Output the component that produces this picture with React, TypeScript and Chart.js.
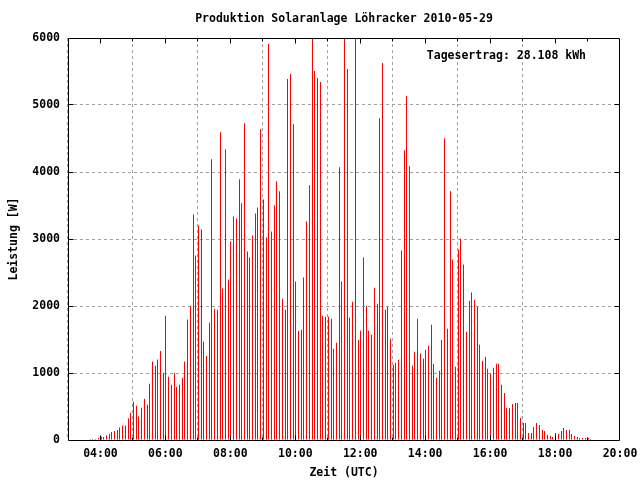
import React, { useEffect, useRef } from "react";
import { Chart, registerables } from "chart.js";

Chart.register(...registerables);

// ---- data ----
const TIMES = [
  "03:41", "03:46", "03:51", "03:56",
  "04:01", "04:06", "04:11", "04:16", "04:21", "04:26", "04:31", "04:36", "04:41", "04:46", "04:51", "04:56",
  "05:01", "05:06", "05:11", "05:16", "05:21", "05:26", "05:31", "05:36", "05:41", "05:46", "05:51", "05:56",
  "06:01", "06:06", "06:11", "06:16", "06:21", "06:26", "06:31", "06:36", "06:41", "06:46", "06:51", "06:56",
  "07:01", "07:06", "07:11", "07:16", "07:21", "07:26", "07:31", "07:36", "07:41", "07:46", "07:51", "07:56",
  "08:01", "08:06", "08:11", "08:16", "08:21", "08:26", "08:31", "08:36", "08:41", "08:46", "08:51", "08:56",
  "09:01", "09:06", "09:11", "09:16", "09:21", "09:26", "09:31", "09:36", "09:41", "09:46", "09:51", "09:56",
  "10:01", "10:06", "10:11", "10:16", "10:21", "10:26", "10:31", "10:36", "10:41", "10:46", "10:51", "10:56",
  "11:01", "11:06", "11:11", "11:16", "11:21", "11:26", "11:31", "11:36", "11:41", "11:46", "11:51", "11:56",
  "12:01", "12:06", "12:11", "12:16", "12:21", "12:26", "12:31", "12:36", "12:41", "12:46", "12:51", "12:56",
  "13:01", "13:06", "13:11", "13:16", "13:21", "13:26", "13:31", "13:36", "13:41", "13:46", "13:51", "13:56",
  "14:01", "14:06", "14:11", "14:16", "14:21", "14:26", "14:31", "14:36", "14:41", "14:46", "14:51", "14:56",
  "15:01", "15:06", "15:11", "15:16", "15:21", "15:26", "15:31", "15:36", "15:41", "15:46", "15:51", "15:56",
  "16:01", "16:06", "16:11", "16:16", "16:21", "16:26", "16:31", "16:36", "16:41", "16:46", "16:51", "16:56",
  "17:01", "17:06", "17:11", "17:16", "17:21", "17:26", "17:31", "17:36", "17:41", "17:46", "17:51", "17:56",
  "18:01", "18:06", "18:11", "18:16", "18:21", "18:26", "18:31", "18:36", "18:41", "18:46", "18:51", "18:56",
  "19:01", "19:06",
];

const POWER_W = [
  15, 15, 15, 30, 50, 45, 70, 95, 120, 135,
  150, 185, 215, 215, 320, 405, 570, 510, 350, 480,
  615, 525, 840, 1170, 1110, 1200, 1330, 1000, 1855, 945,
  825, 1000, 795, 825, 930, 1170, 1800, 2005, 3367, 2753,
  3202, 3142, 1466, 1257, 1751, 4190, 1960, 1945, 4594, 2260,
  4340, 2394, 2963, 3337, 3307, 3891, 3532, 4729, 2813, 2723,
  3053, 3382, 3472, 4639, 3591, 3023, 5911, 3112, 3502, 3861,
  3711, 2110, 1945, 5387, 5462, 4714, 2364, 1631, 1646, 2424,
  3262, 3801, 6000, 5507, 5402, 5342, 1856, 1840, 1840, 1811,
  1362, 1452, 4070, 2364, 6000, 5537, 1826, 2065, 6000, 1496,
  1631, 2723, 2005, 1631, 1571, 2274, 2035, 4803, 5627, 1945,
  1990, 1511, 1122, 1152, 1197, 2828, 4325, 5133, 4085, 1107,
  1317, 1811, 1287, 1212, 1347, 1407, 1721, 1137, 928, 1032,
  1496, 4504, 1661, 3711, 2693, 1092, 2843, 3008, 2619, 1616,
  2080, 2200, 2095, 1990, 1422, 1182, 1242, 1062, 988, 1077,
  1137, 1137, 823, 703, 479, 479, 539, 554, 554, 329,
  254, 254, 105, 105, 195, 254, 224, 150, 135, 75,
  60, 45, 105, 90, 135, 180, 150, 150, 90, 60,
  45, 30, 30, 30, 30, 15,
];

const TITLE = "Produktion Solaranlage Löhracker 2010-05-29";
const X_TITLE = "Zeit (UTC)";
const Y_TITLE = "Leistung [W]";
const DAILY_YIELD = "Tagesertrag: 28.108 kWh";
const X_RANGE = ["03:00", "20:00"];
const X_LABEL_STEP_MIN = 120;
const Y_RANGE = [0, 6000];
const Y_STEP = 1000;

// ---- helpers ----
const toMin = (s: string) => {
  const [h, m] = s.split(":").map(Number);
  return h * 60 + m;
};
const fmtMin = (v: number) => {
  const h = Math.floor(v / 60);
  const m = Math.round(v - h * 60);
  return String(h).padStart(2, "0") + ":" + String(m).padStart(2, "0");
};

const FONT_FAMILY = '"DejaVu Sans Mono", "Liberation Mono", monospace';
const FONT = { family: FONT_FAMILY, size: 11.5, weight: "bold" as const };
const GRID_COLOR = "#a0a0a0";
const CLEAR = "rgba(0,0,0,0)";

const snapPlugin = {
  id: "snapBars",
  beforeDatasetsDraw(chart: any) {
    chart.getSortedVisibleDatasetMetas().forEach((meta: any) => {
      meta.data.forEach((el: any) => {
        el.x = Math.round(el.x - 0.5) + 0.5;
      });
    });
  },
};

const framePlugin = {
  id: "gnuFrame",
  afterDraw(chart: any) {
    const { ctx, chartArea: a, scales } = chart;
    const xs = scales.x;
    const ys = scales.y;
    const L = a.left + 0.5;
    const R = a.right - 0.5;
    const T = a.top + 0.5;
    const B = a.bottom + 0.5;
    ctx.save();
    ctx.strokeStyle = "#000";
    ctx.lineWidth = 1;
    ctx.setLineDash([]);
    ctx.beginPath();
    ctx.moveTo(L, T);
    ctx.lineTo(R, T);
    ctx.lineTo(R, B);
    ctx.lineTo(L, B);
    ctx.closePath();
    const x0 = toMin(X_RANGE[0]);
    const x1 = toMin(X_RANGE[1]);
    for (let v = x0 + 60; v < x1; v += 60) {
      const px = Math.round(xs.getPixelForValue(v) - 0.5) + 0.5;
      const len = (v - x0) % X_LABEL_STEP_MIN === 60 ? 5 : 3;
      ctx.moveTo(px, B);
      ctx.lineTo(px, B - len);
      ctx.moveTo(px, T);
      ctx.lineTo(px, T + len);
    }
    for (let v = Y_RANGE[0] + Y_STEP; v < Y_RANGE[1]; v += Y_STEP) {
      const py = Math.round(ys.getPixelForValue(v) - 0.5) + 0.5;
      ctx.moveTo(L, py);
      ctx.lineTo(L + 5, py);
      ctx.moveTo(R, py);
      ctx.lineTo(R - 5, py);
    }
    ctx.stroke();

    ctx.font = `bold ${FONT.size}px ${FONT_FAMILY}`;
    ctx.fillStyle = "#000";
    ctx.textAlign = "left";
    ctx.textBaseline = "middle";
    const tx = a.left + (a.right - a.left) * 0.65;
    const ty = a.top + (a.bottom - a.top) * 0.045;
    ctx.fillText(DAILY_YIELD, tx, ty);
    ctx.restore();
  },
};

export default function App() {
  const canvasRef = useRef<HTMLCanvasElement | null>(null);

  useEffect(() => {
    const canvas = canvasRef.current;
    if (!canvas) return;
    const points = TIMES.map((t, i) => ({ x: toMin(t), y: POWER_W[i] }));
    const xMin = toMin(X_RANGE[0]);
    const xMax = toMin(X_RANGE[1]);

    const chart = new Chart(canvas, {
      type: "bar",
      data: {
        datasets: [
          {
            label: "Leistung",
            data: points as any,
            backgroundColor: "#ff0000",
            borderWidth: 0,
            barThickness: 1,
            inflateAmount: 0,
          } as any,
        ],
      },
      plugins: [snapPlugin, framePlugin],
      options: {
        animation: false,
        responsive: false,
        devicePixelRatio: 1,
        layout: { padding: { left: 0, right: 20, top: 0, bottom: 0 } },
        plugins: {
          legend: { display: false },
          tooltip: { enabled: false },
          title: {
            display: true,
            text: TITLE,
            color: "#000",
            font: FONT,
            fullSize: false,
            padding: { top: 12.5, bottom: 11.7 },
          },
        },
        scales: {
          x: {
            type: "linear",
            min: xMin,
            max: xMax,
            offset: false,
            afterFit: (s: any) => {
              s.height = 40;
              s.paddingLeft = 0;
              s.paddingRight = 0;
            },
            ticks: {
              stepSize: X_LABEL_STEP_MIN,
              includeBounds: false,
              autoSkip: false,
              maxRotation: 0,
              minRotation: 0,
              padding: 7,
              color: "#000",
              font: FONT,
              callback: (v: any) => fmtMin(Number(v)),
            },
            grid: {
              drawTicks: false,
              lineWidth: 1,
              color: (c: any) =>
                c.tick && (c.tick.value <= xMin || c.tick.value >= xMax) ? CLEAR : GRID_COLOR,
            },
            border: { display: false, dash: [3, 3] },
            title: {
              display: true,
              text: X_TITLE,
              color: "#000",
              font: FONT,
              padding: { top: 1, bottom: 0 },
            },
          } as any,
          y: {
            type: "linear",
            min: Y_RANGE[0],
            max: Y_RANGE[1],
            afterFit: (s: any) => {
              s.width = 68;
              s.paddingTop = 0;
              s.paddingBottom = 0;
            },
            ticks: {
              stepSize: Y_STEP,
              autoSkip: false,
              padding: 8,
              color: "#000",
              font: FONT,
              callback: (v: any) => String(v),
            },
            grid: {
              drawTicks: false,
              lineWidth: 1,
              color: (c: any) =>
                c.tick && (c.tick.value <= Y_RANGE[0] || c.tick.value >= Y_RANGE[1]) ? CLEAR : GRID_COLOR,
            },
            border: { display: false, dash: [3, 3] },
            title: {
              display: true,
              text: Y_TITLE,
              color: "#000",
              font: FONT,
              padding: { top: 6.8, bottom: 0 },
            },
          } as any,
        },
      },
    });
    return () => chart.destroy();
  }, []);

  return (
    <div style={{ position: "absolute", left: 0, top: 0, width: 640, height: 480, background: "#fff" }}>
      <canvas ref={canvasRef} width={640} height={480} style={{ width: 640, height: 480 }} />
    </div>
  );
}
